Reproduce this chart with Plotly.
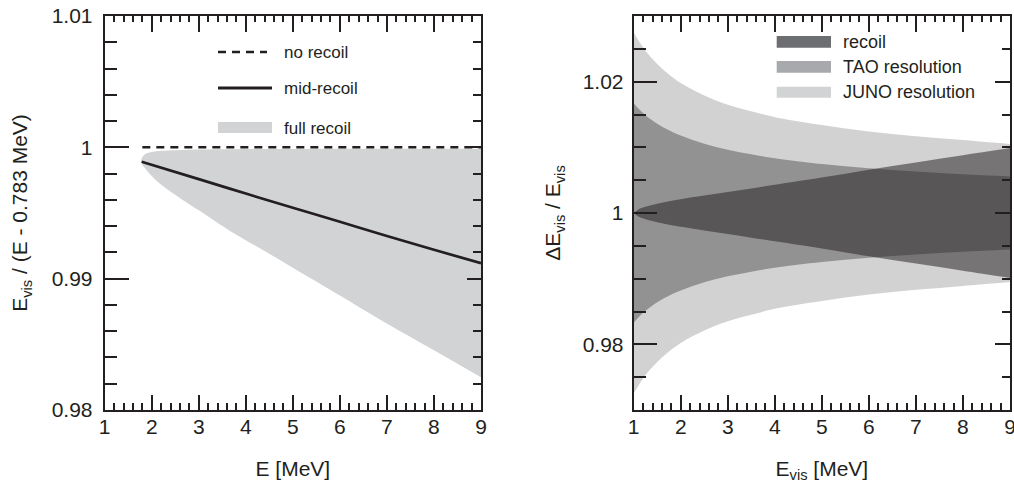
import plotly.graph_objects as go

# ---------------- data ----------------
# Left panel
E_band = [1.775, 1.80, 1.85, 1.95, 2.1, 2.35, 2.7, 3.0, 3.63, 4.4, 5.0, 6.0, 6.85, 8.0, 9.0]
band_upper = [0.9990, 0.99925, 0.99945, 0.9996, 0.9997, 0.99976, 0.9998, 0.99983, 0.99985,
              0.99987, 0.99988, 0.9999, 0.9999, 0.9999, 0.9999]
band_lower = [0.9990, 0.9987, 0.99845, 0.9980, 0.99745, 0.99675, 0.9959, 0.9952, 0.99371,
              0.99210, 0.99084, 0.98872, 0.98690, 0.98455, 0.98249]
E_mid = [1.785, 3.0, 4.0, 5.0, 6.0, 7.0, 8.0, 9.0]
mid_recoil = [0.9989, 0.99758, 0.99648, 0.9954, 0.99433, 0.99325, 0.9922, 0.99118]
E_norecoil = [1.8, 9.0]
no_recoil = [1.0, 1.0]

# Right panel (half widths around 1)
E_vis = [1.0, 1.1, 1.25, 1.5, 1.75, 2.0, 2.5, 3.0, 3.5, 4.0, 5.0, 6.0, 7.0, 8.0, 9.0]
juno_half = [0.0275, 0.0263, 0.0247, 0.0227, 0.0211, 0.0198, 0.0179, 0.0165, 0.0155,
             0.0146, 0.0134, 0.0124, 0.0117, 0.0111, 0.0105]
tao_half = [0.0167, 0.0159, 0.0149, 0.0136, 0.0126, 0.0118, 0.01056, 0.00964, 0.00893,
            0.00835, 0.00747, 0.00682, 0.00631, 0.0059, 0.00557]
recoil_half = [0.0, 0.00055, 0.00095, 0.00142, 0.00178, 0.0021, 0.00265, 0.0032, 0.00375,
               0.0043, 0.0054, 0.0066, 0.0077, 0.0088, 0.0099]

x_ticks = [1, 2, 3, 4, 5, 6, 7, 8, 9]
left_yticks = [0.98, 0.99, 1.0, 1.01]
left_yticktext = ["0.98", "0.99", "1", "1.01"]
right_yticks = [0.98, 1.0, 1.02]
right_yticktext = ["0.98", "1", "1.02"]

legend_left = ["no recoil", "mid-recoil", "full recoil"]
legend_right = ["recoil", "TAO resolution", "JUNO resolution"]

# ---------------- style ----------------
W, H = 1014, 483
INK = "#231f20"
FONT = "Liberation Sans, Arial, Helvetica, sans-serif"
C_JUNO_LEG, C_TAO_LEG, C_REC_LEG = "#d1d3d4", "#a7a9ac", "#6d6e71"


def px(x):
    return x / W


def py(y):
    return 1 - y / H


xdomL = [px(104.7), px(481)]
xdomR = [px(633.7), px(1010)]
ydom = [py(410), py(16)]

fig = go.Figure()

# ---- left panel ----
fig.add_trace(go.Scatter(x=E_band, y=band_lower, mode="lines", line=dict(width=0, shape="spline"),
                         xaxis="x", yaxis="y", showlegend=False, hoverinfo="skip"))
fig.add_trace(go.Scatter(x=E_band, y=band_upper, mode="lines", line=dict(width=0, shape="spline"),
                         fill="tonexty", fillcolor=C_JUNO_LEG,
                         xaxis="x", yaxis="y", showlegend=False, hoverinfo="skip"))
fig.add_trace(go.Scatter(x=E_norecoil, y=no_recoil, mode="lines",
                         line=dict(color=INK, width=2.5, dash="8px,6px"),
                         xaxis="x", yaxis="y", showlegend=False))
fig.add_trace(go.Scatter(x=E_mid, y=mid_recoil, mode="lines",
                         line=dict(color=INK, width=2.7, shape="spline"),
                         xaxis="x", yaxis="y", showlegend=False))
# invisible carrier so the mirrored (top/right) tick axes are drawn
fig.add_trace(go.Scatter(x=E_mid, y=mid_recoil, mode="lines", line=dict(width=0), opacity=0,
                         xaxis="x3", yaxis="y3", showlegend=False, hoverinfo="skip"))

# ---- right panel ----
def band(half, color):
    lo = [1 - h for h in half]
    hi = [1 + h for h in half]
    fig.add_trace(go.Scatter(x=E_vis, y=lo, mode="lines", line=dict(width=0, shape="spline"),
                             xaxis="x2", yaxis="y2", showlegend=False, hoverinfo="skip"))
    fig.add_trace(go.Scatter(x=E_vis, y=hi, mode="lines", line=dict(width=0, shape="spline"),
                             fill="tonexty", fillcolor=color,
                             xaxis="x2", yaxis="y2", showlegend=False, hoverinfo="skip"))


band(juno_half, "rgba(35,31,32,0.20)")
band(tao_half, "rgba(35,31,32,0.355)")
band(recoil_half, "rgba(35,31,32,0.52)")
fig.add_trace(go.Scatter(x=E_vis, y=[1 + h for h in recoil_half], mode="lines",
                         line=dict(width=0), opacity=0,
                         xaxis="x4", yaxis="y4", showlegend=False, hoverinfo="skip"))

# ---------------- axes ----------------
tickfont = dict(family=FONT, size=21, color=INK)
titlefont = dict(family=FONT, size=21, color=INK)


def xax(domain, title, major, minor, side="bottom", overlay=None, anchor=None, labels=True):
    d = dict(range=[1, 9], domain=domain, tickmode="array", tickvals=x_ticks,
             ticktext=[str(v) for v in x_ticks], ticks="inside", ticklen=major,
             tickwidth=2, tickcolor=INK, showline=True, linewidth=2, linecolor=INK,
             showgrid=False, zeroline=False, side=side, showticklabels=labels,
             tickfont=tickfont, ticklabelstandoff=-3, ticklabeloverflow="allow",
             fixedrange=True, automargin=False,
             minor=dict(tickmode="linear", tick0=1, dtick=0.2, ticks="inside",
                        ticklen=minor, tickwidth=2, tickcolor=INK, showgrid=False))
    if title:
        d["title"] = dict(text=title, font=titlefont, standoff=24)
    if overlay:
        d["overlaying"] = overlay
    if anchor:
        d["anchor"] = anchor
    return d


def yax(rng, tv, tt, t0, dt, major, minor, side="left", overlay=None, anchor=None,
        labels=True, title=None, standoff=18, lstand=6):
    d = dict(range=rng, domain=ydom, tickmode="array", tickvals=tv, ticktext=tt,
             ticks="inside", ticklen=major, tickwidth=2, tickcolor=INK,
             showline=True, linewidth=2, linecolor=INK, showgrid=False, zeroline=False,
             side=side, showticklabels=labels, tickfont=tickfont, ticklabelstandoff=lstand,
             ticklabeloverflow="allow", fixedrange=True, automargin=False,
             minor=dict(tickmode="linear", tick0=t0, dtick=dt, ticks="inside",
                        ticklen=minor, tickwidth=2, tickcolor=INK, showgrid=False))
    if title:
        d["title"] = dict(text=title, font=titlefont, standoff=standoff)
    if overlay:
        d["overlaying"] = overlay
    if anchor:
        d["anchor"] = anchor
    return d


fig.update_layout(
    xaxis=xax(xdomL, "E [MeV]", 15, 7, anchor="y"),
    yaxis=yax([0.98, 1.01], left_yticks, left_yticktext, 0.98, 0.002, 24, 12, anchor="x",
              title="E<sub>vis</sub> / (E - 0.783 MeV)", standoff=18, lstand=6),
    xaxis3=xax(xdomL, None, 16, 6, side="top", overlay="x", anchor="y", labels=False),
    yaxis3=yax([0.98, 1.01], left_yticks, left_yticktext, 0.98, 0.002, 14, 8, side="right",
               overlay="y", anchor="x", labels=False),
    xaxis2=xax(xdomR, "E<sub>vis</sub> [MeV]", 15, 7, anchor="y2"),
    yaxis2=yax([0.97, 1.03], right_yticks, right_yticktext, 0.97, 0.005, 23, 12, anchor="x2",
               title="ΔE<sub>vis</sub> / E<sub>vis</sub>", standoff=16, lstand=4),
    xaxis4=xax(xdomR, None, 16, 6, side="top", overlay="x2", anchor="y2", labels=False),
    yaxis4=yax([0.97, 1.03], right_yticks, right_yticktext, 0.97, 0.005, 15, 8, side="right",
               overlay="y2", anchor="x2", labels=False),
)

# ---------------- legends (drawn as keys) ----------------
shapes = []
annotations = []
# left legend
shapes.append(dict(type="line", xref="paper", yref="paper", x0=px(218), x1=px(267),
                   y0=py(52), y1=py(52), line=dict(color=INK, width=2.5, dash="8px,6px")))
shapes.append(dict(type="line", xref="paper", yref="paper", x0=px(218), x1=px(272),
                   y0=py(88), y1=py(88), line=dict(color=INK, width=3)))
shapes.append(dict(type="rect", xref="paper", yref="paper", x0=px(218), x1=px(272),
                   y0=py(133), y1=py(122), fillcolor=C_JUNO_LEG, line=dict(width=0)))
for label, yc in zip(legend_left, [52, 88, 128]):
    annotations.append(dict(text=label, xref="paper", yref="paper", x=px(282), y=py(yc),
                            xanchor="left", yanchor="middle", showarrow=False,
                            font=dict(family=FONT, size=17, color=INK)))
# right legend
for label, col, (y0, y1) in zip(legend_right, [C_REC_LEG, C_TAO_LEG, C_JUNO_LEG],
                                [(36, 47.7), (61, 72.7), (86.7, 97.7)]):
    shapes.append(dict(type="rect", xref="paper", yref="paper", x0=px(776.7), x1=px(831),
                       y0=py(y1), y1=py(y0), fillcolor=col, line=dict(width=0)))
    annotations.append(dict(text=label, xref="paper", yref="paper", x=px(841),
                            y=py((y0 + y1) / 2), xanchor="left", yanchor="middle",
                            showarrow=False, font=dict(family=FONT, size=18, color=INK)))

fig.update_layout(
    width=W, height=H, margin=dict(l=0, r=0, t=0, b=0, autoexpand=False),
    paper_bgcolor="white", plot_bgcolor="white",
    shapes=shapes, annotations=annotations, showlegend=False,
    font=dict(family=FONT, color=INK),
)

fig.write_html("out.html", config={"displayModeBar": False},
               post_script="document.body.style.margin='0';document.body.style.overflow='hidden';")
